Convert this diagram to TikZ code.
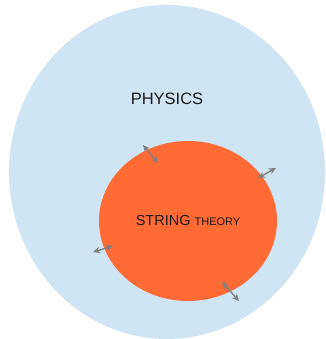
\documentclass[tikz,border=0pt]{standalone}
\usepackage{fontspec}
\setmainfont{Liberation Sans}
\usetikzlibrary{arrows.meta}
\definecolor{physblue}{HTML}{CFE5F3}
\definecolor{strorange}{HTML}{FF6A35}
\definecolor{arrgray}{HTML}{808080}
\definecolor{txt}{HTML}{1A1A1A}
\tikzset{
  dblarrow/.style={draw=arrgray, line width=1.4pt, {Stealth[length=7pt,width=6.5pt]}-{Stealth[length=7pt,width=6.5pt]}},
  lbl/.style={text=txt, inner sep=0pt}
}
\begin{document}
\begin{tikzpicture}[x=1pt,y=-1pt]
\useasboundingbox (0,0) rectangle (325,339);
\fill[physblue] (167,172) ellipse [x radius=158, y radius=167];
\fill[strorange] (188,221) ellipse [x radius=89, y radius=80];
\node[lbl, font=\fontsize{16.5}{18}\selectfont] (physics) at (167,99) {PHYSICS};
\node[lbl] (string) at (188,221) {\fontsize{14.5}{16}\selectfont STRING \fontsize{11}{12}\selectfont THEORY};
\coordinate (a1s) at (143,145); \coordinate (a1e) at (158,163);
\coordinate (a2s) at (258,178); \coordinate (a2e) at (276,168);
\coordinate (a3s) at (93,252);  \coordinate (a3e) at (113,246);
\coordinate (a4s) at (222,282); \coordinate (a4e) at (239,301);
\draw[dblarrow] (a1s) -- (a1e);
\draw[dblarrow] (a2s) -- (a2e);
\draw[dblarrow] (a3s) -- (a3e);
\draw[dblarrow] (a4s) -- (a4e);
\end{tikzpicture}
\end{document}
